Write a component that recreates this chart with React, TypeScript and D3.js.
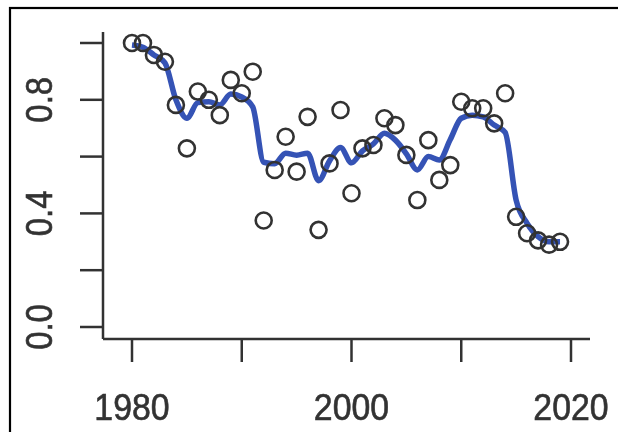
import React from 'react';
import * as d3 from 'd3';

// yearly observations (open circles)
const years = d3.range(1980, 2020);
const observed = [
  1.0, 1.0, 0.958, 0.934, 0.782, 0.629, 0.829, 0.8, 0.746, 0.87,
  0.823, 0.899, 0.375, 0.553, 0.67, 0.547, 0.74, 0.342, 0.576, 0.764,
  0.471, 0.629, 0.641, 0.735, 0.711, 0.606, 0.447, 0.658, 0.518, 0.57,
  0.793, 0.77, 0.77, 0.717, 0.823, 0.388, 0.33, 0.305, 0.29, 0.3,
];
// smoothed trend (blue line)
const smoothed = [
  0.993, 0.985, 0.958, 0.93, 0.8, 0.735, 0.79, 0.793, 0.782, 0.82,
  0.81, 0.775, 0.58, 0.575, 0.612, 0.605, 0.612, 0.515, 0.585, 0.632,
  0.578, 0.62, 0.645, 0.682, 0.658, 0.61, 0.553, 0.6, 0.588, 0.66,
  0.735, 0.746, 0.74, 0.711, 0.685, 0.447, 0.365, 0.318, 0.3, 0.3,
];
const xTicks = [1980, 1990, 2000, 2010, 2020];
const xLabels = [1980, 2000, 2020];
const yTicks = [0, 0.2, 0.4, 0.6, 0.8, 1.0];
const yLabels = [0, 0.4, 0.8];

const W = 618;
const H = 432;
const ink = '#333';

export default function App() {
  const x = d3.scaleLinear().domain([1980, 2020]).range([132, 571]);
  const y = d3.scaleLinear().domain([0, 1]).range([327, 43]);

  const line = d3
    .line<number>()
    .x((_, i) => x(years[i]))
    .y(d => y(d))
    .curve(d3.curveMonotoneX);

  const axisX = 103;
  const axisY = 339;

  return (
    <div style={{ position: 'absolute', left: 0, top: 0 }}>
      <svg width={W} height={H} style={{ display: 'block', background: '#fff' }}>
        <defs>
          <filter id="soft">
            <feGaussianBlur stdDeviation="0.7" />
          </filter>
        </defs>
        <g filter="url(#soft)">
          <rect x={10} y={8} width={W + 20} height={H + 20} fill="none" stroke="#000" strokeWidth={2.2} />

          {/* axes */}
          <line x1={axisX} x2={axisX} y1={32} y2={axisY} stroke={ink} strokeWidth={2.5} />
          <line x1={axisX} x2={590} y1={axisY} y2={axisY} stroke={ink} strokeWidth={2.5} />
          {yTicks.map(t => (
            <line key={t} x1={80} x2={axisX} y1={y(t)} y2={y(t)} stroke={ink} strokeWidth={2.5} />
          ))}
          {yLabels.map(t => (
            <text
              key={t}
              transform={`translate(52,${y(t)}) rotate(-90) scale(0.94,1.05)`}
              textAnchor="middle"
              fontFamily="Liberation Sans, Arial, sans-serif"
              fontSize={35}
              fill={ink}
              stroke={ink}
              strokeWidth={0.6}
            >
              {t.toFixed(1)}
            </text>
          ))}
          {xTicks.map(t => (
            <line key={t} x1={x(t)} x2={x(t)} y1={axisY} y2={362} stroke={ink} strokeWidth={2.5} />
          ))}
          {xLabels.map(t => (
            <text
              key={t}
              transform={`translate(${x(t)},420) scale(0.94,1.05)`}
              textAnchor="middle"
              fontFamily="Liberation Sans, Arial, sans-serif"
              fontSize={36}
              fill={ink}
              stroke={ink}
              strokeWidth={0.6}
            >
              {t}
            </text>
          ))}

          {/* trend */}
          <path d={line(smoothed) ?? ''} fill="none" stroke="#3552b5" strokeWidth={5.5} strokeLinejoin="round" />

          {/* observations */}
          {observed.map((v, i) => (
            <circle key={years[i]} cx={x(years[i])} cy={y(v)} r={8} fill="none" stroke={ink} strokeWidth={2.6} />
          ))}
        </g>
      </svg>
    </div>
  );
}
